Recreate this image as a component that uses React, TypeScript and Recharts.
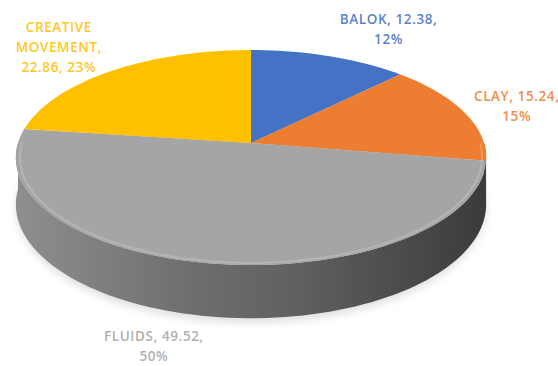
import React from 'react'
import { PieChart, Pie } from 'recharts'

const CATEGORIES = ['BALOK', 'CLAY', 'FLUIDS', 'CREATIVE MOVEMENT']
const VALUES = [12.38, 15.24, 49.52, 22.86]
const COLORS = ['#4472C4', '#ED7D31', '#A5A5A5', '#FFC000']

const data = CATEGORIES.map((name, i) => ({ name, value: VALUES[i], fill: COLORS[i] }))

// fake 3D: tilt of the disc, a bit of perspective, and the thickness of the wall
const TILT = 0.453
const PERSP = 0.135
const DEPTH = 46

// where each label sits relative to the rim point at its mid angle
const LABEL_NUDGE: Record<string, [number, number]> = {
  BALOK: [59, -27],
  CLAY: [53, -6],
  FLUIDS: [-57, 83],
  'CREATIVE MOVEMENT': [-53, -24],
}

function project(cx: number, cy: number, r: number, deg: number, drop = 0): [number, number] {
  const a = (deg * Math.PI) / 180
  const u = Math.sin(a)
  const s = 1 / (1 + PERSP * u)
  return [cx + r * Math.cos(a) * s, cy - r * TILT * u * s + drop * s]
}

function arcPoints(cx: number, cy: number, r: number, from: number, to: number, drop = 0) {
  const n = Math.max(2, Math.ceil(Math.abs(to - from) / 2))
  const pts: [number, number][] = []
  for (let i = 0; i <= n; i++) pts.push(project(cx, cy, r, from + ((to - from) * i) / n, drop))
  return pts
}

function shade(hex: string, f: number) {
  const n = parseInt(hex.slice(1), 16)
  const c = [(n >> 16) & 255, (n >> 8) & 255, n & 255].map(v => Math.round(v * f))
  return `rgb(${c.join(',')})`
}

const toPath = (pts: [number, number][]) =>
  pts.map((p, i) => `${i ? 'L' : 'M'}${p[0].toFixed(2)},${p[1].toFixed(2)}`).join('') + 'Z'

function Slice3D(props: any) {
  const { cx, cy, outerRadius, startAngle, endAngle, fill, name } = props
  const lo = Math.min(startAngle, endAngle)
  const hi = Math.max(startAngle, endAngle)
  const id = `wall-${String(name).replace(/\W/g, '')}`

  // front-facing parts of the rim get a wall
  const walls: [number, number][] = []
  for (let k = -2; k <= 1; k++) {
    const a = Math.max(lo, 180 + 360 * k)
    const b = Math.min(hi, 360 + 360 * k)
    if (b > a) walls.push([a, b])
  }

  const top = toPath([[cx, cy], ...arcPoints(cx, cy, outerRadius, hi, lo)])

  return (
    <g>
      <defs>
        <linearGradient id={id} gradientUnits="userSpaceOnUse" x1={cx - outerRadius} y1={0} x2={cx + outerRadius} y2={0}>
          <stop offset="0%" stopColor={shade(fill, 0.86)} />
          <stop offset="35%" stopColor={shade(fill, 0.68)} />
          <stop offset="60%" stopColor={shade(fill, 0.58)} />
          <stop offset="100%" stopColor={shade(fill, 0.36)} />
        </linearGradient>
        <filter id="soft" x="-20%" y="-20%" width="140%" height="140%">
          <feGaussianBlur stdDeviation="4" />
        </filter>
      </defs>
      {name === CATEGORIES[0] && (
        <path
          d={toPath(arcPoints(cx, cy, outerRadius, 0, 360, DEPTH + 4))}
          fill="#000"
          opacity={0.12}
          filter="url(#soft)"
        />
      )}
      {walls.map(([a, b], i) => (
        <path
          key={i}
          d={toPath([...arcPoints(cx, cy, outerRadius, a, b), ...arcPoints(cx, cy, outerRadius, b, a, DEPTH)])}
          fill={`url(#${id})`}
        />
      ))}
      <path d={top} fill={fill} />
      {walls.map(([a, b], i) => (
        <polyline
          key={'h' + i}
          points={arcPoints(cx, cy, outerRadius - 4, a, b).map(p => p.join(',')).join(' ')}
          fill="none"
          stroke="#fff"
          strokeOpacity={0.18}
          strokeWidth={2}
        />
      ))}
    </g>
  )
}

function wrap(text: string, max = 14) {
  const lines: string[] = []
  let cur = ''
  for (const w of text.split(' ')) {
    if (cur && (cur + ' ' + w).length > max) {
      lines.push(cur)
      cur = w
    } else cur = cur ? cur + ' ' + w : w
  }
  if (cur) lines.push(cur)
  return lines
}

function SliceLabel(props: any) {
  const { cx, cy, outerRadius, midAngle, name, value, percent, fill } = props
  const [px, py] = project(cx, cy, outerRadius, midAngle)
  const [dx, dy] = LABEL_NUDGE[name] ?? [0, 0]
  const lines = wrap(`${name}, ${value}, ${Math.round(percent * 100)}%`)
  const lh = 20
  const y0 = py + dy - ((lines.length - 1) * lh) / 2
  return (
    <text
      x={px + dx}
      y={y0}
      fill={fill}
      fillOpacity={0.9}
      textAnchor="middle"
      dominantBaseline="central"
      fontFamily="'Open Sans', sans-serif"
      fontWeight={600}
      fontSize={13.5}
      letterSpacing={0.6}
    >
      {lines.map((l, i) => (
        <tspan key={i} x={px + dx} y={y0 + i * lh}>
          {l}
        </tspan>
      ))}
    </text>
  )
}

export default function App() {
  return (
    <div style={{ position: 'absolute', left: 0, top: 0, width: 558, height: 366, background: '#fff' }}>
      <PieChart width={558} height={366} margin={{ top: 0, right: 0, bottom: 0, left: 0 }}>
        <Pie
          data={data}
          dataKey="value"
          nameKey="name"
          cx={251}
          cy={143}
          outerRadius={233}
          startAngle={90}
          endAngle={-270}
          stroke="none"
          shape={Slice3D}
          label={SliceLabel}
          labelLine={false}
          isAnimationActive={false}
        />
      </PieChart>
    </div>
  )
}
